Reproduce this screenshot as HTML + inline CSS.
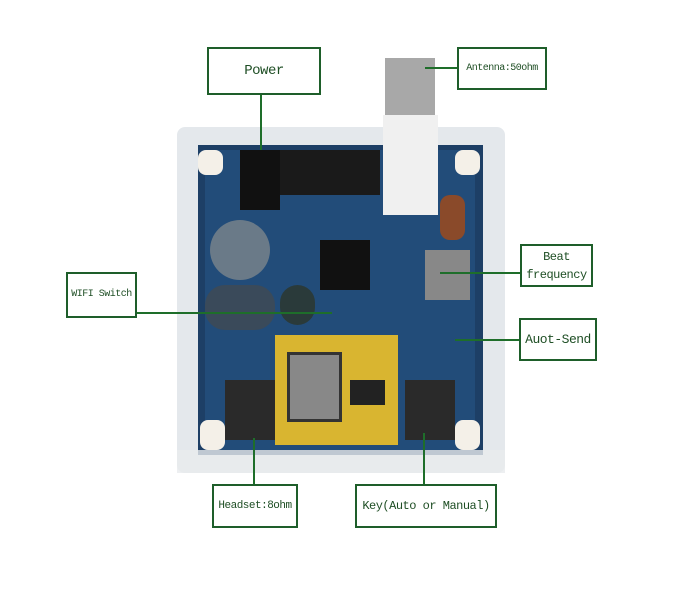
<!DOCTYPE html><html><head><style>
body{margin:0;width:700px;height:600px;background:#fff;position:relative;overflow:hidden;font-family:"Liberation Mono",monospace}
div{position:absolute;box-sizing:border-box}
.b{border:2px solid #1e5e2a;background:#fff;color:#1e4e24;font-size:12px;display:flex;align-items:center;justify-content:center;text-align:center;line-height:18px;white-space:nowrap;letter-spacing:-0.5px}
.l{background:#1e6e2a}
</style></head><body>
<div style="left:177px;top:127px;width:328px;height:346px;background:#e4e8ec;border-radius:8px"></div>
<div style="left:198px;top:145px;width:285px;height:310px;background:#1d3f66"></div>
<div style="left:205px;top:150px;width:270px;height:300px;background:#24507e;opacity:.8"></div>
<div style="left:280px;top:150px;width:100px;height:45px;background:#1a1a1a"></div>
<div style="left:240px;top:150px;width:40px;height:60px;background:#111"></div>
<div style="left:210px;top:220px;width:60px;height:60px;background:#6a7a88;border-radius:30px"></div>
<div style="left:205px;top:285px;width:70px;height:45px;background:#3a4a5a;border-radius:20px"></div>
<div style="left:280px;top:285px;width:35px;height:40px;background:#2a3a3a;border-radius:18px"></div>
<div style="left:320px;top:240px;width:50px;height:50px;background:#111"></div>
<div style="left:440px;top:195px;width:25px;height:45px;background:#8a4a2a;border-radius:10px"></div>
<div style="left:385px;top:58px;width:50px;height:60px;background:#a8a8a8"></div>
<div style="left:383px;top:115px;width:55px;height:100px;background:#f0f0f0"></div>
<div style="left:425px;top:250px;width:45px;height:50px;background:#888"></div>
<div style="left:225px;top:380px;width:50px;height:60px;background:#2a2a2a"></div>
<div style="left:405px;top:380px;width:50px;height:60px;background:#2a2a2a"></div>
<div style="left:200px;top:420px;width:25px;height:30px;background:#f4f0e8;border-radius:8px"></div>
<div style="left:455px;top:420px;width:25px;height:30px;background:#f4f0e8;border-radius:8px"></div>
<div style="left:198px;top:150px;width:25px;height:25px;background:#f4f0e8;border-radius:8px"></div>
<div style="left:455px;top:150px;width:25px;height:25px;background:#f4f0e8;border-radius:8px"></div>
<div style="left:275px;top:335px;width:123px;height:110px;background:#d9b530"></div>
<div style="left:287px;top:352px;width:55px;height:70px;background:#888;border:3px solid #333"></div>
<div style="left:350px;top:380px;width:35px;height:25px;background:#222"></div>
<div style="left:177px;top:450px;width:328px;height:23px;background:#e8ebee;opacity:.8"></div>
<div class="l" style="left:260px;top:95px;width:2px;height:55px"></div>
<div class="l" style="left:425px;top:67px;width:32px;height:2px"></div>
<div class="l" style="left:440px;top:272px;width:80px;height:2px"></div>
<div class="l" style="left:137px;top:312px;width:195px;height:2px"></div>
<div class="l" style="left:455px;top:339px;width:64px;height:2px"></div>
<div class="l" style="left:253px;top:438px;width:2px;height:46px"></div>
<div class="l" style="left:423px;top:433px;width:2px;height:51px"></div>
<div class="b" style="left:207px;top:47px;width:114px;height:48px;font-size:14px">Power</div>
<div class="b" style="left:457px;top:47px;width:90px;height:43px;font-size:10px">Antenna:50ohm</div>
<div class="b" style="left:520px;top:244px;width:73px;height:43px;font-size:12px">Beat<br>frequency</div>
<div class="b" style="left:66px;top:272px;width:71px;height:46px;font-size:10px">WIFI Switch</div>
<div class="b" style="left:519px;top:318px;width:78px;height:43px;font-size:13px">Auot-Send</div>
<div class="b" style="left:212px;top:484px;width:86px;height:44px;font-size:11px">Headset:8ohm</div>
<div class="b" style="left:355px;top:484px;width:142px;height:44px;font-size:12px">Key(Auto or Manual)</div>
</body></html>
